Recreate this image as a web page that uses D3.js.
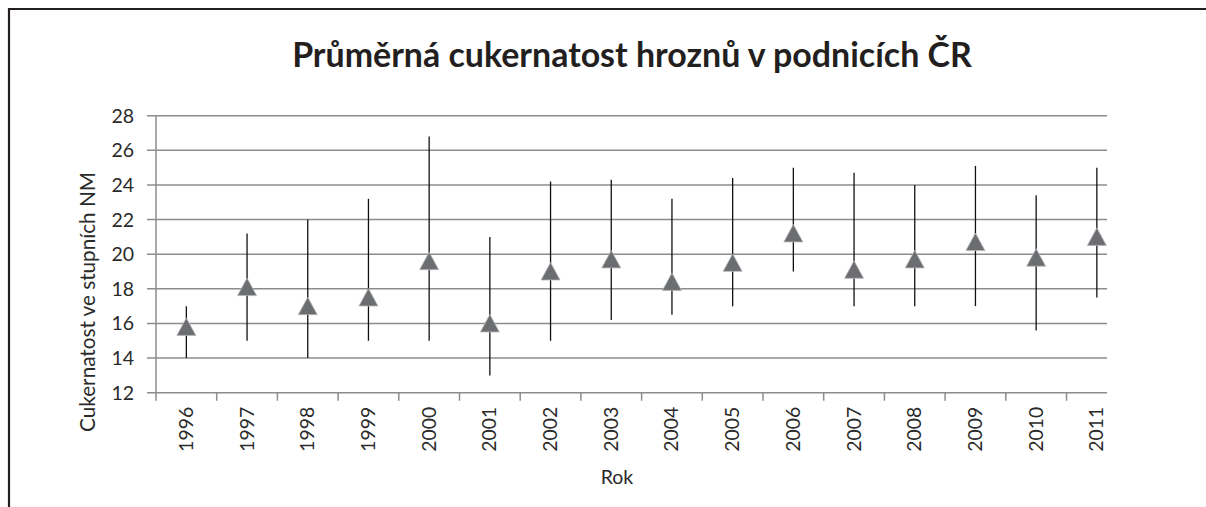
<!DOCTYPE html>
<html>
<head>
<meta charset="utf-8">
<script src="https://cdn.jsdelivr.net/npm/d3@7.9.0/dist/d3.min.js"></script>
<style>
  html, body { margin: 0; padding: 0; background: #fff; }
  svg { display: block; }
</style>
</head>
<body>
<svg id="chart" width="1206" height="507"></svg>
<script>
const years = ['1996', '1997', '1998', '1999', '2000', '2001', '2002', '2003',
  '2004', '2005', '2006', '2007', '2008', '2009', '2010', '2011'];
const highs = [17.0, 21.2, 22.0, 23.2, 26.8, 21.0, 24.2, 24.3, 23.2, 24.4, 25.0, 24.7, 24.0, 25.1, 23.4, 25.0];
const lows = [14.0, 15.0, 14.0, 15.0, 15.0, 13.0, 15.0, 16.2, 16.5, 17.0, 19.0, 17.0, 17.0, 17.0, 15.6, 17.5];
const means = [15.8, 18.1, 17.0, 17.5, 19.6, 16.0, 19.0, 19.7, 18.4, 19.5, 21.2, 19.1, 19.7, 20.7, 19.8, 21.0];
const yTicks = [12, 14, 16, 18, 20, 22, 24, 26, 28];

const title = 'Průměrná cukernatost hroznů v podnicích ČR';
const yTitle = 'Cukernatost ve stupních NM';
const xTitle = 'Rok';

const rows = years.map((y, i) => ({ year: y, high: highs[i], low: lows[i], mean: means[i] }));

const svg = d3.select('#chart');
const plotLeft = 156;
const plotRight = 1107;
const step = 60.7;
const labelFont = 'Lato, "Open Sans", sans-serif';

const x = d3.scaleBand()
  .domain(years)
  .range([plotLeft, plotLeft + step * years.length])
  .paddingInner(0)
  .paddingOuter(0);
const y = d3.scaleLinear().domain([12, 28]).range([392.7, 115.7]);

// shrink/grow a text node's font so it spans a given width
function fitWidth(sel, size, width) {
  const w = sel.node().getComputedTextLength();
  sel.attr('font-size', size * width / w);
}

// frame (only top and left edges are visible in the source)
svg.append('path')
  .attr('d', 'M9,507 V9 H1206')
  .attr('fill', 'none')
  .attr('stroke', '#231f20')
  .attr('stroke-width', 2.2);

// title
const titleText = svg.append('text')
  .attr('x', 632)
  .attr('y', 67)
  .attr('text-anchor', 'middle')
  .attr('font-family', 'Lato, "Open Sans", sans-serif')
  .attr('font-weight', 'bold')
  .attr('font-size', 27)
  .attr('fill', '#231f20')
  .text(title);
fitWidth(titleText, 27, 680);

// horizontal gridlines
svg.append('g')
  .selectAll('line')
  .data(yTicks)
  .join('line')
  .attr('x1', plotLeft - 9)
  .attr('x2', plotRight)
  .attr('y1', (d) => y(d))
  .attr('y2', (d) => y(d))
  .attr('stroke', '#8c8c8c')
  .attr('stroke-width', 1.5);

// y axis line
svg.append('line')
  .attr('x1', plotLeft).attr('x2', plotLeft)
  .attr('y1', y(28)).attr('y2', y(12))
  .attr('stroke', '#8c8c8c')
  .attr('stroke-width', 1.5);

// y tick labels
svg.append('g')
  .selectAll('text')
  .data(yTicks)
  .join('text')
  .attr('x', 134)
  .attr('y', (d) => y(d))
  .attr('dy', '0.36em')
  .attr('text-anchor', 'end')
  .attr('font-family', labelFont)
  .attr('font-size', 19.5)
  .attr('fill', '#2a2a2a')
  .text((d) => d);

// x category ticks (between categories)
const xTickPos = [plotLeft].concat(years.slice(1).map((d) => x(d)));
svg.append('g')
  .selectAll('line')
  .data(xTickPos.filter((p) => p <= plotRight))
  .join('line')
  .attr('x1', (d) => d).attr('x2', (d) => d)
  .attr('y1', y(12)).attr('y2', y(12) + 8)
  .attr('stroke', '#8c8c8c')
  .attr('stroke-width', 1.5);

// x labels (rotated)
svg.append('g')
  .selectAll('text')
  .data(years)
  .join('text')
  .attr('transform', (d) => `translate(${x(d) + x.bandwidth() / 2 + 6.5},${y(12) + 14}) rotate(-90)`)
  .attr('text-anchor', 'end')
  .attr('font-family', labelFont)
  .attr('font-size', 19)
  .attr('fill', '#2a2a2a')
  .text((d) => d)
  .each(function () { fitWidth(d3.select(this), 19, 45); });

// axis titles
const yTitleText = svg.append('text')
  .attr('transform', `translate(95,302) rotate(-90)`)
  .attr('text-anchor', 'middle')
  .attr('font-family', labelFont)
  .attr('font-size', 20)
  .attr('fill', '#2a2a2a')
  .text(yTitle);
fitWidth(yTitleText, 20, 260);

svg.append('text')
  .attr('x', 617)
  .attr('y', 484)
  .attr('text-anchor', 'middle')
  .attr('font-family', labelFont)
  .attr('font-size', 19.5)
  .attr('fill', '#2a2a2a')
  .text(xTitle);

// high-low whiskers
const cx = (d) => x(d.year) + x.bandwidth() / 2;
svg.append('g')
  .selectAll('line')
  .data(rows)
  .join('line')
  .attr('x1', cx).attr('x2', cx)
  .attr('y1', (d) => y(d.high))
  .attr('y2', (d) => y(d.low))
  .attr('stroke', '#111')
  .attr('stroke-width', 1.3);

// mean markers
const tri = 'M0,-9 L9.5,8.5 L-9.5,8.5 Z';
svg.append('g')
  .selectAll('path')
  .data(rows)
  .join('path')
  .attr('transform', (d) => `translate(${cx(d)},${y(d.mean)})`)
  .attr('d', tri)
  .attr('fill', '#6b6d70')
  .attr('stroke', '#b5b6b8')
  .attr('stroke-width', 0.8);
</script>
</body>
</html>
